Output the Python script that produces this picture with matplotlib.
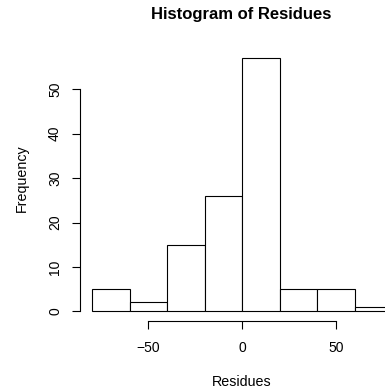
import numpy as np
import matplotlib.pyplot as plt

plt.rcParams['font.family'] = ['Liberation Sans', 'DejaVu Sans']

# DATA
bin_edges = [-80, -60, -40, -20, 0, 20, 40, 60, 80]
counts = [5, 2, 15, 26, 57, 5, 5, 1]
x_ticks = [-50, 0, 50]
y_ticks = [0, 10, 20, 30, 40, 50]

W, H = 385, 390
fig = plt.figure(figsize=(W / 100, H / 100), dpi=100)

# axes: x=-80 at px 92, x=80 at px 392 (beyond right edge, as in the crop)
ax = fig.add_axes([92 / W, 78.7 / H, 300 / W, 266.4 / H])
ax.set_xlim(-80, 80)
ax.set_ylim(0, 60)

left = np.array(bin_edges[:-1])
widths = np.diff(bin_edges)
ax.bar(left, counts, width=widths, align='edge', facecolor='white',
       edgecolor='black', linewidth=0.8, clip_on=False)

for s in ['top', 'right']:
    ax.spines[s].set_visible(False)
ax.spines['left'].set_position(('outward', 8.6))
ax.spines['bottom'].set_position(('outward', 7.2))
ax.spines['left'].set_bounds(0, 50)
ax.spines['bottom'].set_bounds(-50, 50)
for s in ['left', 'bottom']:
    ax.spines[s].set_linewidth(0.8)

ax.set_xticks(x_ticks)
ax.set_xticklabels(['\u221250', '0', '50'])
ax.set_yticks(y_ticks)
ax.set_yticklabels([str(v) for v in y_ticks], rotation=90, va='center')
ax.tick_params(axis='x', length=6, width=0.8, labelsize=10, pad=8)
ax.tick_params(axis='y', length=6, width=0.8, labelsize=10, pad=7)

ax.set_xlabel('Residues', fontsize=10.3, labelpad=14.5)
ax.set_ylabel('Frequency', fontsize=10.3, labelpad=13.5)

fig.text(241 / W, 1 - 15 / H, 'Histogram of Residues', ha='center',
         va='center', fontsize=12, fontweight='bold')

fig.savefig('out.png', dpi=100)
